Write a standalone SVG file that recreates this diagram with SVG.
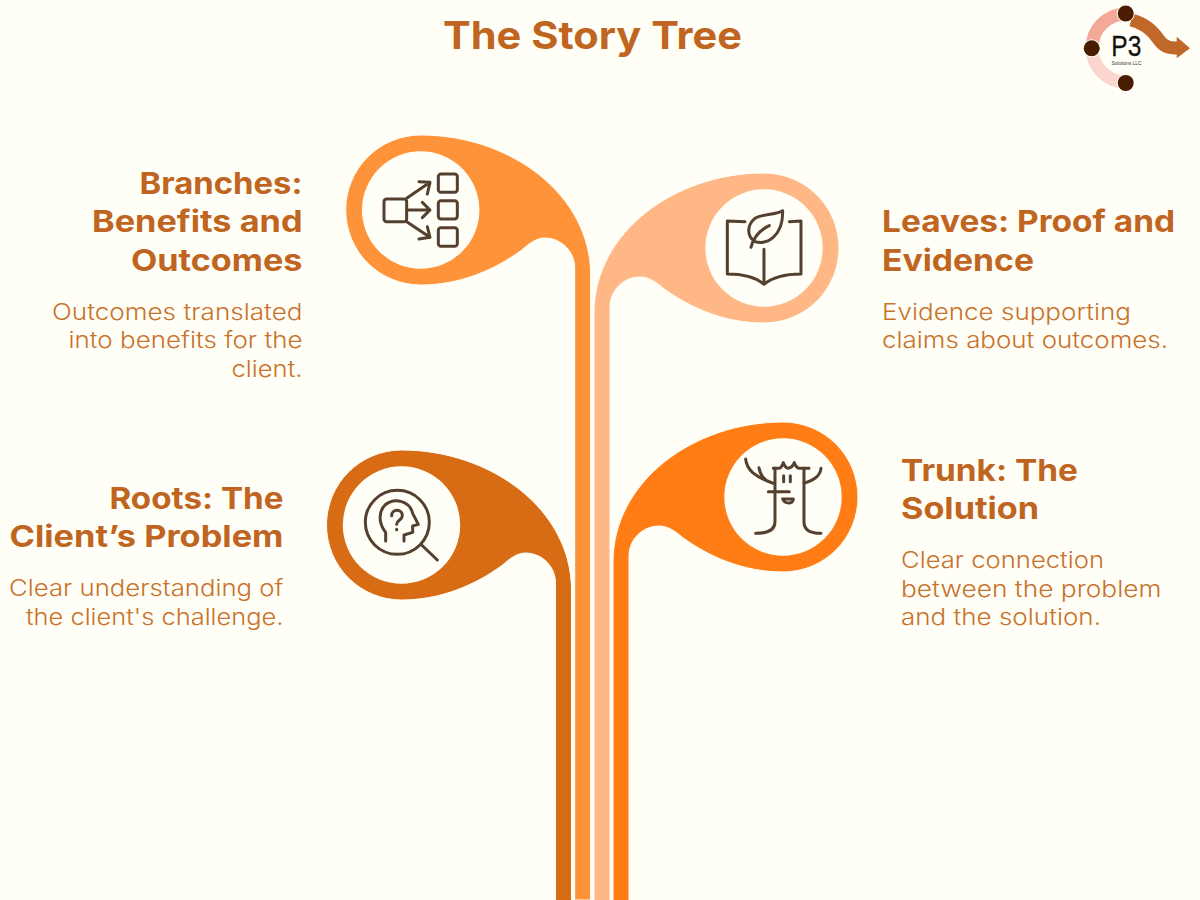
<svg xmlns="http://www.w3.org/2000/svg" width="1200" height="900" viewBox="0 0 1200 900">
<defs>
<style>
.h{font-family:"Inter","Open Sans","Liberation Sans",sans-serif;font-weight:700;font-size:30px;fill:#C0651F}
.b{font-family:"Inter","Open Sans","Liberation Sans",sans-serif;font-weight:300;font-size:23px;fill:#C9722B}
.r{text-anchor:end}
.ic{fill:none;stroke:#54402F;stroke-width:9;stroke-linecap:round;stroke-linejoin:round}
.hole{fill:#FFFFF7}
.halo{stroke:#FFFFF7;stroke-width:1}
</style>
<path id="leafL" d="M16 765 V140 C16 60 -64 0 -154 0 A75 75 0 0 0 -154 150 C-115 150 -80 135 -53 115 C-45 108 -38 103 -30 103 C-13 103 0 117 0 133 V765 Z"/>
<path id="leafR" d="M0 727 V115 C0 35 80 -25 170 -25 A75 75 0 0 1 170 125 C131 125 96 110 69 90 C61 83 54 79 46 79 C29 79 16 93 16 109 V727 Z"/>
</defs>
<rect width="1200" height="900" fill="#FFFFF7"/>
<text x="592.500" y="48.500" text-anchor="middle" textLength="299" lengthAdjust="spacingAndGlyphs" style="font-family:Inter,'Open Sans',sans-serif;font-weight:700;font-size:38.500px;fill:#C0651F">The Story Tree</text>
<g id="logo">
<path d="M1126 14A34 34 0 0 0 1092 48" fill="none" stroke="#F4A998" stroke-width="13"/>
<path d="M1092 48A34 34 0 0 0 1126 82" fill="none" stroke="#FBD6CE" stroke-width="13"/>
<path d="M1131 20C1145 23 1153 31 1159 40C1164 47 1169 48 1178 48" fill="none" stroke="#C0682A" stroke-width="13"/>
<path d="M1176.700 36.700L1190 48.300L1176.700 58.300Z" fill="#C0682A"/>
<circle cx="1125.700" cy="13.500" r="9" fill="#FFFFF7"/>
<circle cx="1091.700" cy="48.300" r="9" fill="#FFFFF7"/>
<circle cx="1125.700" cy="83" r="9" fill="#FFFFF7"/>
<circle cx="1125.700" cy="13.500" r="8" fill="#4A1C02"/>
<circle cx="1091.700" cy="48.300" r="8" fill="#4A1C02"/>
<circle cx="1125.700" cy="83" r="8" fill="#4A1C02"/>
<text x="1126.300" y="55.700" text-anchor="middle" textLength="30" lengthAdjust="spacingAndGlyphs" style="font-family:'Liberation Sans',sans-serif;font-size:29px;fill:#111;stroke:#111;stroke-width:.3">P3</text>
<text x="1126.500" y="64.500" text-anchor="middle" textLength="30" lengthAdjust="spacingAndGlyphs" style="font-family:'Liberation Sans',sans-serif;font-size:5px;fill:#333">Solutions LLC</text>
</g>
<g id="stems">
<use href="#leafL" x="555.500" y="450" fill="#D86C15" class="halo"/>
<use href="#leafL" x="574.700" y="135" fill="#FF933A" class="halo"/>
<use href="#leafR" x="594" y="198" fill="#FFB885" class="halo"/>
<use href="#leafR" x="613" y="447" fill="#FF7D14" class="halo"/>
</g>
<g id="branches">
<circle class="hole" cx="420.700" cy="210" r="58.700"/>
<g transform="translate(340 130) scale(.3333)" class="ic">
<rect x="132" y="207" width="68" height="68" rx="8"/>
<rect x="295" y="132" width="57" height="55" rx="8"/>
<rect x="295" y="212" width="57" height="55" rx="8"/>
<rect x="295" y="293" width="57" height="56" rx="8"/>
<path d="M200 205L270 157M237 155L270 157L262 192M200 240H270M247 217L270 240L247 263M200 275L270 322M262 290L270 322L237 327"/>
</g>
<text class="h r" x="302.500" y="193.500" textLength="163" lengthAdjust="spacingAndGlyphs">Branches:</text>
<text class="h r" x="302.500" y="232" textLength="210.500" lengthAdjust="spacingAndGlyphs">Benefits and</text>
<text class="h r" x="302.500" y="270.500" textLength="171.500" lengthAdjust="spacingAndGlyphs">Outcomes</text>
<text class="b r" x="302.500" y="319.500" textLength="250.500" lengthAdjust="spacingAndGlyphs">Outcomes translated</text>
<text class="b r" x="302.500" y="348" textLength="234" lengthAdjust="spacingAndGlyphs">into benefits for the</text>
<text class="b r" x="302.500" y="376.500" textLength="71" lengthAdjust="spacingAndGlyphs">client.</text>
</g>
<g id="leaves">
<circle class="hole" cx="764" cy="248" r="58.700"/>
<g transform="translate(590 170) scale(.3333)" class="ic">
<path d="M465 155L412 153V312C450 312 495 320 522 343C550 320 595 312 633 312V153L598 155M522 238V343"/>
<path d="M578 122C560 135 520 130 495 145C470 165 470 200 495 215C530 225 580 200 578 122Z"/>
<path d="M483 232C490 205 510 180 538 167"/>
</g>
<text class="h" x="882" y="232" textLength="293" lengthAdjust="spacingAndGlyphs">Leaves: Proof and</text>
<text class="h" x="882" y="270.500" textLength="152" lengthAdjust="spacingAndGlyphs">Evidence</text>
<text class="b" x="882" y="319.500" textLength="249" lengthAdjust="spacingAndGlyphs">Evidence supporting</text>
<text class="b" x="882" y="348" textLength="286" lengthAdjust="spacingAndGlyphs">claims about outcomes.</text>
</g>
<g id="roots">
<circle class="hole" cx="401.500" cy="525" r="58.700"/>
<g transform="translate(320 445) scale(.3333)" class="ic">
<circle cx="232" cy="232" r="96"/>
<path d="M305 300L352 345M197 288V262C175 235 175 200 195 180C225 155 270 170 278 205L295 238L278 243V262L252 270V288"/>
<path d="M215 212C215 190 247 190 247 212C247 225 230 225 230 238M230 253V254"/>
</g>
<text class="h r" x="283.500" y="508.500" textLength="174" lengthAdjust="spacingAndGlyphs">Roots: The</text>
<text class="h r" x="283.500" y="547" textLength="274" lengthAdjust="spacingAndGlyphs">Client’s Problem</text>
<text class="b r" x="283.500" y="596" textLength="274.500" lengthAdjust="spacingAndGlyphs">Clear understanding of</text>
<text class="b r" x="283.500" y="624.500" textLength="257.500" lengthAdjust="spacingAndGlyphs">the client's challenge.</text>
</g>
<g id="trunk">
<circle class="hole" cx="783" cy="497" r="58.700"/>
<g transform="translate(605 415) scale(.3333)" class="ic">
<path d="M422 132C425 165 450 185 505 205M462 158C465 175 470 185 480 192M648 160C645 185 625 195 597 205"/>
<path d="M505 160H522Q530 158 535 143Q540 158 550 160Q562 158 568 143Q573 158 583 160H612"/>
<path d="M510 160V320C510 345 490 355 452 355M597 160V320C597 345 615 355 648 355"/>
<path d="M536 182V200M556 182V200M490 230H553M533 252H565C565 268 540 268 533 252Z"/>
</g>
<text class="h" x="901" y="480.500" textLength="177" lengthAdjust="spacingAndGlyphs">Trunk: The</text>
<text class="h" x="901" y="519" textLength="138" lengthAdjust="spacingAndGlyphs">Solution</text>
<text class="b" x="901" y="568" textLength="203" lengthAdjust="spacingAndGlyphs">Clear connection</text>
<text class="b" x="901" y="596.500" textLength="260.500" lengthAdjust="spacingAndGlyphs">between the problem</text>
<text class="b" x="901" y="625" textLength="200" lengthAdjust="spacingAndGlyphs">and the solution.</text>
</g>
</svg>
